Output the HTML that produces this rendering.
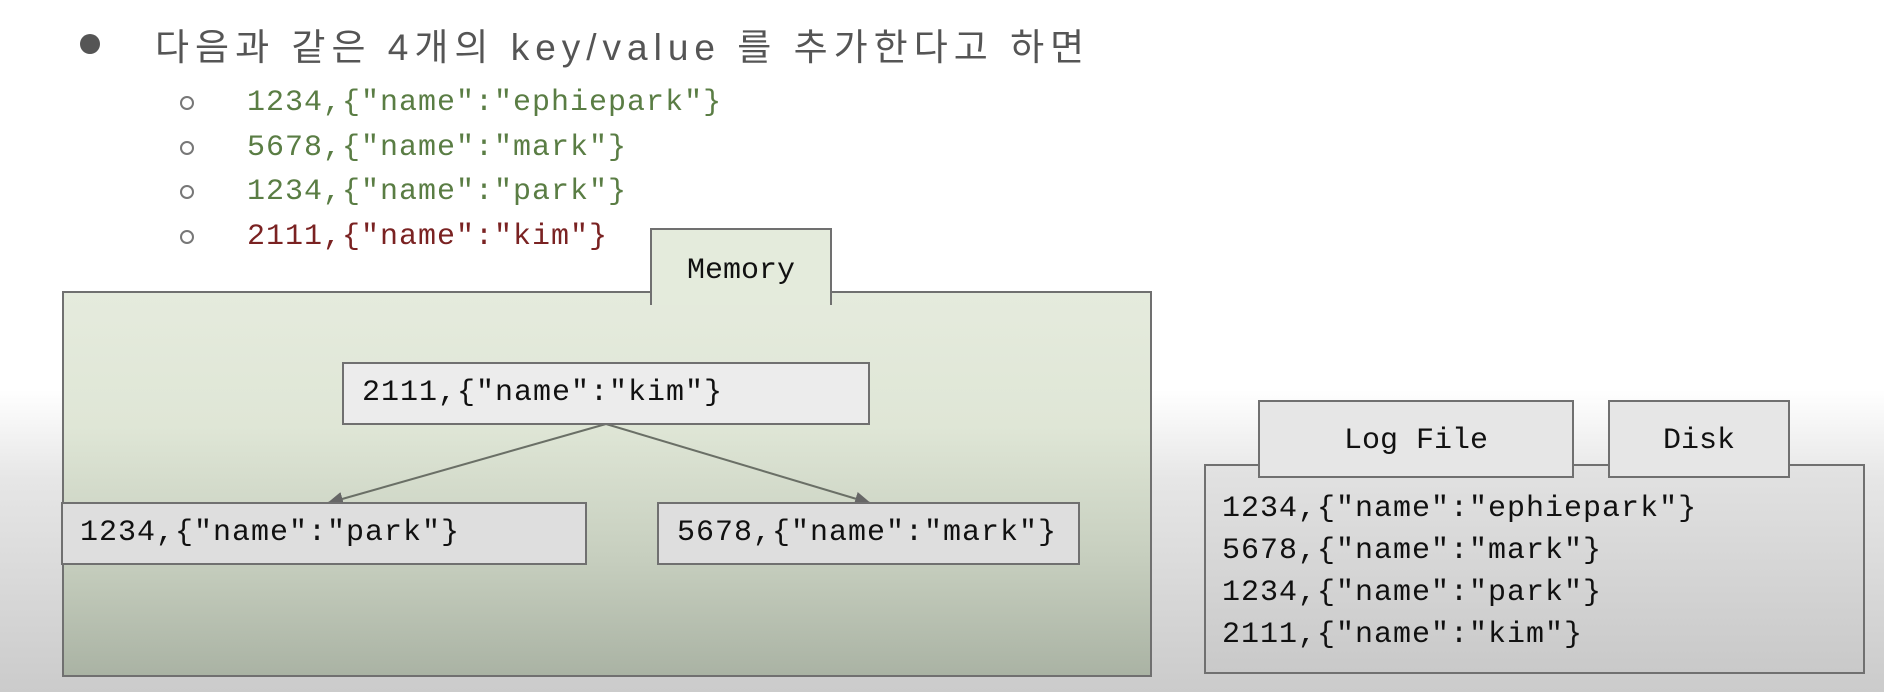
<!DOCTYPE html>
<html><head><meta charset="utf-8"><style>
*{margin:0;padding:0;box-sizing:border-box}
body{width:1884px;height:692px;position:relative;overflow:hidden;font-family:"Liberation Mono",monospace;
background:linear-gradient(to bottom,#ffffff 0px,#ffffff 390px,#e6e6e6 480px,#cbcbcb 692px);}
.a{position:absolute;white-space:nowrap}
.m{font-family:"Liberation Mono",monospace;font-size:30px;letter-spacing:1px}
.box{position:absolute;border:2px solid #707070}
</style></head><body>
<div class="a" style="left:80px;top:34px;width:20px;height:20px;border-radius:50%;background:#555"></div>
<div class="a" style="left:155px;top:17px;font-family:'Liberation Sans','Noto Sans CJK KR',sans-serif;font-size:37px;letter-spacing:6px;color:#555">다음과 같은 4개의 key/value 를 추가한다고 하면</div>
<div class="a" style="left:180px;top:96px;width:14px;height:14px;border-radius:50%;border:2px solid #777"></div>
<div class="a" style="left:180px;top:141px;width:14px;height:14px;border-radius:50%;border:2px solid #777"></div>
<div class="a" style="left:180px;top:185px;width:14px;height:14px;border-radius:50%;border:2px solid #777"></div>
<div class="a" style="left:180px;top:230px;width:14px;height:14px;border-radius:50%;border:2px solid #777"></div>
<div class="a m" style="left:247px;top:86px;color:#5a7d44">1234,{"name":"ephiepark"}</div>
<div class="a m" style="left:247px;top:131px;color:#5a7d44">5678,{"name":"mark"}</div>
<div class="a m" style="left:247px;top:175px;color:#5a7d44">1234,{"name":"park"}</div>
<div class="a m" style="left:247px;top:220px;color:#7a2222">2111,{"name":"kim"}</div>

<div class="box" style="left:62px;top:291px;width:1090px;height:386px;background:linear-gradient(to bottom,#e5ebdd 0%,#dfe6d6 35%,#c6ceBE 70%,#aab3a4 100%)"></div>
<div class="box" style="left:650px;top:228px;width:182px;height:77px;background:#e4ebdc;border-bottom:none"></div>
<div class="a m" style="left:650px;top:254px;width:182px;text-align:center;color:#111;letter-spacing:0">Memory</div>

<svg class="a" style="left:0;top:0" width="1884" height="692">
<defs><marker id="ar" markerWidth="16" markerHeight="14" refX="15" refY="7" orient="auto" markerUnits="userSpaceOnUse"><path d="M0,0 L16,7 L0,14z" fill="#666"/></marker></defs>
<line x1="606" y1="424" x2="328" y2="503" stroke="#6a6f66" stroke-width="2" marker-end="url(#ar)"/>
<line x1="606" y1="424" x2="870" y2="503" stroke="#6a6f66" stroke-width="2" marker-end="url(#ar)"/>
</svg>
<div class="box" style="left:342px;top:362px;width:528px;height:63px;background:#ececec"></div>
<div class="a m" style="left:362px;top:376px;color:#111">2111,{"name":"kim"}</div>
<div class="box" style="left:61px;top:502px;width:526px;height:63px;background:#dedede"></div>
<div class="a m" style="left:80px;top:516px;color:#111">1234,{"name":"park"}</div>
<div class="box" style="left:657px;top:502px;width:423px;height:63px;background:#dedede"></div>
<div class="a m" style="left:677px;top:516px;color:#111">5678,{"name":"mark"}</div>

<div class="box" style="left:1204px;top:464px;width:661px;height:210px;background:linear-gradient(to bottom,#e2e2e2,#c9c9c9)"></div>
<div class="box" style="left:1258px;top:400px;width:316px;height:78px;background:#e6e6e6"></div>
<div class="a m" style="left:1258px;top:424px;width:316px;text-align:center;color:#111;letter-spacing:0">Log File</div>
<div class="box" style="left:1608px;top:400px;width:182px;height:78px;background:#e6e6e6"></div>
<div class="a m" style="left:1608px;top:424px;width:182px;text-align:center;color:#111;letter-spacing:0">Disk</div>
<div class="a m" style="left:1222px;top:488px;color:#111;line-height:42px">1234,{"name":"ephiepark"}<br>5678,{"name":"mark"}<br>1234,{"name":"park"}<br>2111,{"name":"kim"}</div>
</body></html>
